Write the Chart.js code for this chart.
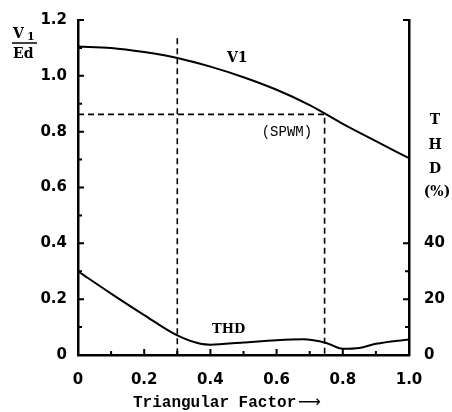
<!DOCTYPE html>
<html>
<head>
<meta charset="utf-8">
<script src="https://cdn.jsdelivr.net/npm/chart.js@4.4.0/dist/chart.umd.min.js"></script>
<style>
  html, body { margin: 0; padding: 0; background: #fff; }
  #wrap { width: 452px; height: 412px; position: relative; }
</style>
</head>
<body>
<div id="wrap"><canvas id="chart" width="452" height="412"></canvas></div>
<script>
// triangular factor samples and curves
const v1X = [0, 0.1, 0.2, 0.3, 0.4, 0.5, 0.6, 0.7, 0.8, 0.9, 1.0];
const v1Y = [1.105, 1.10, 1.085, 1.064, 1.033, 0.995, 0.95, 0.895, 0.828, 0.766, 0.705];

const thdX = [0, 0.1, 0.2, 0.3, 0.37, 0.4, 0.5, 0.6, 0.68, 0.75, 0.8, 0.85, 0.9, 1.0];
const thdY = [30, 22, 14.3, 7, 4, 3.7, 4.5, 5.3, 5.6, 4.3, 2.2, 2.5, 4, 5.6];   // %

// dashed guide lines
const guide1 = [[0.3, 1.135], [0.3, 0]];
const guide2 = [[0, 0.862], [0.745, 0.862], [0.745, 0]];

const xTickLabels = [0, 0.2, 0.4, 0.6, 0.8, 1.0];
const yTickLabels = [0, 0.2, 0.4, 0.6, 0.8, 1.0, 1.2];
const y2TickLabels = [0, 20, 40];

const toPts = (xs, ys) => xs.map((x, i) => ({ x: x, y: ys[i] }));
const near = (v, list) => list.some(t => Math.abs(t - v) < 1e-6);

const tickFont = { family: 'DejaVu Sans', size: 15, weight: 'bold' };

// inward tick marks + annotation text
const decor = {
    id: 'decor',
    afterDraw(chart) {
        const ctx = chart.ctx;
        const { x, y, y2 } = chart.scales;
        ctx.save();
        ctx.strokeStyle = '#000';
        ctx.lineWidth = 2;
        ctx.beginPath();
        for (let v = 0; v <= 1.0001; v += 0.1) {
            const px = x.getPixelForValue(v);
            const len = near(Math.round(v * 10) / 10, xTickLabels) ? 6 : 4;
            ctx.moveTo(px, x.top); ctx.lineTo(px, x.top - len);
        }
        for (let v = 0; v <= 1.2001; v += 0.1) {
            const py = y.getPixelForValue(v);
            const len = near(Math.round(v * 10) / 10, yTickLabels) ? 6 : 4;
            ctx.moveTo(y.right, py); ctx.lineTo(y.right + len, py);
        }
        for (let v = 0; v <= 40; v += 10) {
            const py = y2.getPixelForValue(v);
            const len = near(v, y2TickLabels) ? 6 : 4;
            ctx.moveTo(y2.left, py); ctx.lineTo(y2.left - len, py);
        }
        const topR = y2.getPixelForValue(120);
        ctx.moveTo(y2.left, topR); ctx.lineTo(y2.left - 6, topR);
        ctx.stroke();

        ctx.fillStyle = '#000';
        ctx.textBaseline = 'alphabetic';
        ctx.textAlign = 'left';
        ctx.font = 'bold 14px "DejaVu Serif"';
        ctx.fillText('V1', x.getPixelForValue(0.45), y.getPixelForValue(1.05));
        ctx.font = 'bold 13px "DejaVu Serif"';
        ctx.fillText('THD', x.getPixelForValue(0.405), y.getPixelForValue(0.08));
        ctx.font = '14px "Liberation Mono"';
        ctx.fillText('(SPWM)', x.getPixelForValue(0.555), y.getPixelForValue(0.785));

        // x axis title
        ctx.font = 'bold 16px "Liberation Mono"';
        ctx.fillText('Triangular Factor', 133, 407);
        ctx.font = '16px "DejaVu Sans"';
        ctx.fillText('\u27F6', 298, 407);

        // left axis title V1 / Ed
        ctx.font = 'bold 14px "DejaVu Serif"';
        ctx.fillText('V', 13, 38);
        ctx.font = 'bold 11px "DejaVu Serif"';
        ctx.fillText('1', 27, 40);
        ctx.lineWidth = 1.5;
        ctx.beginPath(); ctx.moveTo(12, 43); ctx.lineTo(37, 43); ctx.stroke();
        ctx.font = 'bold 14px "DejaVu Serif"';
        ctx.fillText('Ed', 13, 58);

        // right axis title
        ctx.textAlign = 'center';
        ctx.fillText('T', 435, 124);
        ctx.fillText('H', 435, 149);
        ctx.fillText('D', 435, 173);
        ctx.fillText('(%)', 437, 196);
        ctx.restore();
    }
};

new Chart(document.getElementById('chart'), {
    type: 'line',
    data: {
        datasets: [
            {
                data: toPts(v1X, v1Y), yAxisID: 'y',
                borderColor: '#000', borderWidth: 2, pointRadius: 0,
                cubicInterpolationMode: 'monotone', fill: false
            },
            {
                data: toPts(thdX, thdY), yAxisID: 'y2',
                borderColor: '#000', borderWidth: 2, pointRadius: 0,
                cubicInterpolationMode: 'monotone', fill: false
            },
            {
                data: guide1.map(p => ({ x: p[0], y: p[1] })), yAxisID: 'y',
                borderColor: '#000', borderWidth: 1.6, borderDash: [6, 4],
                pointRadius: 0, tension: 0
            },
            {
                data: guide2.map(p => ({ x: p[0], y: p[1] })), yAxisID: 'y',
                borderColor: '#000', borderWidth: 1.6, borderDash: [6, 4],
                pointRadius: 0, tension: 0
            }
        ]
    },
    options: {
        responsive: false,
        animation: false,
        layout: { padding: { top: 20, left: 0, right: 0, bottom: 0 } },
        plugins: { legend: { display: false }, tooltip: { enabled: false } },
        scales: {
            x: {
                type: 'linear', min: 0, max: 1.0,
                border: { display: true, color: '#000', width: 2.5 },
                grid: { display: false },
                ticks: {
                    stepSize: 0.1, color: '#000', font: tickFont, padding: 8, maxRotation: 0,
                    callback: v => near(v, xTickLabels) ? (v === 0 ? '0' : v.toFixed(1)) : ''
                },
                afterFit: s => { s.height = 57; }
            },
            y: {
                type: 'linear', position: 'left', min: 0, max: 1.2,
                border: { display: true, color: '#000', width: 2.5 },
                grid: { display: false },
                ticks: {
                    stepSize: 0.1, color: '#000', font: tickFont, padding: 3,
                    callback: v => near(Math.round(v * 10) / 10, yTickLabels) ? (v === 0 ? '0' : v.toFixed(1)) : ''
                },
                afterFit: s => { s.width = 78; }
            },
            y2: {
                type: 'linear', position: 'right', min: 0, max: 120,
                border: { display: true, color: '#000', width: 2.5 },
                grid: { display: false },
                ticks: {
                    stepSize: 10, color: '#000', font: tickFont, padding: 7,
                    callback: v => near(v, y2TickLabels) ? String(v) : ''
                },
                afterFit: s => { s.width = 43; }
            }
        }
    },
    plugins: [decor]
});
</script>
</body>
</html>
